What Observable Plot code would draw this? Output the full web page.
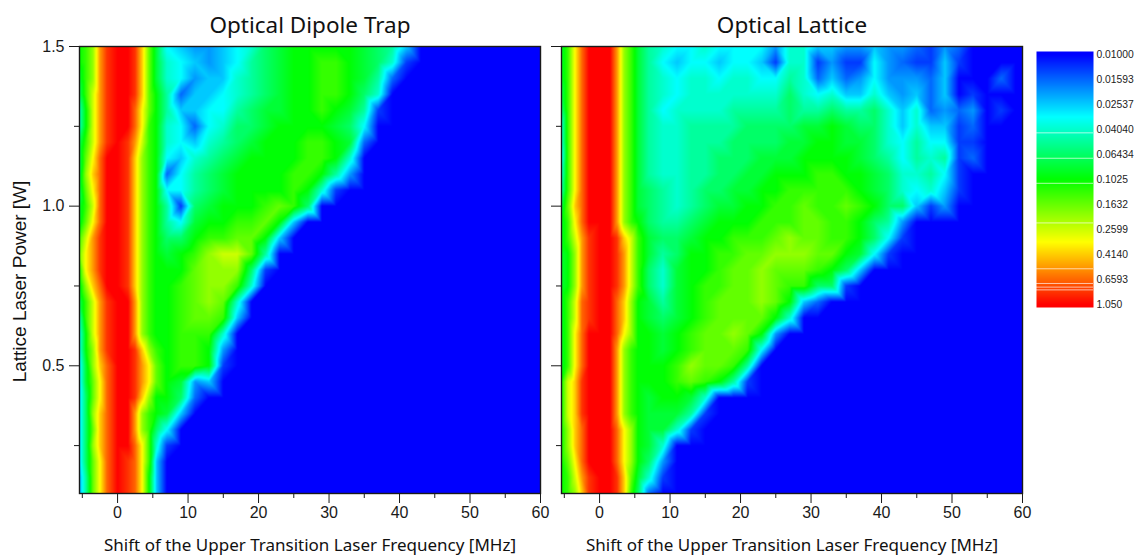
<!DOCTYPE html>
<html><head><meta charset="utf-8">
<script src="https://cdn.jsdelivr.net/npm/d3@7"></script>
<script src="https://cdn.jsdelivr.net/npm/@observablehq/plot@0.6"></script>
<style>
html,body{margin:0;padding:0;background:#fff}
#page{position:relative;width:1145px;height:556px;overflow:hidden}
#page svg{position:absolute;top:0}
</style></head><body><div id="page"></div>
<script>
// Frequency shift columns [MHz]
const freq = [-5.5,-4.5,-3.5,-2.5,-1.5,0,1.5,2.5,3.5,4.5,5.5,7,9,11,13,15,17,19,21,23,25,27,29,31,33,35,37,39,41,43,45,47,49,51,53,55,57,59,60];
// Laser power rows [W], top to bottom
const power = [1.5,1.45,1.4,1.35,1.3,1.25,1.2,1.15,1.1,1.05,1,0.95,0.9,0.85,0.8,0.75,0.7,0.65,0.6,0.55,0.5,0.45,0.4,0.35,0.3,0.25,0.2,0.15,0.1];
// Signal in thousandths; columns left out at the end of a row are at the floor value
const floorValue = 10;
const dipole = [
[100,130,200,520,830,1050,1050,830,410,160,80,32,25,20,20,25,32,40,64,80,100,100,100,100,100,80,64,50,25,10],
[100,130,200,520,830,1050,1050,830,410,160,80,40,32,25,20,25,32,50,64,80,100,100,130,130,100,80,64,40,13],
[80,130,200,520,830,1050,1050,830,410,160,80,40,32,20,25,25,40,50,64,80,100,100,130,130,100,80,50,16],
[64,130,260,520,830,1050,1050,830,410,160,100,50,16,25,25,32,40,50,64,80,100,100,130,130,100,64,40,10],
[40,100,260,520,830,1050,1050,660,330,160,100,50,25,25,32,32,50,64,80,80,100,100,130,100,80,50,13],
[40,100,260,520,830,1050,1050,660,330,130,100,40,32,16,32,40,64,64,80,100,100,100,100,80,64,32],
[64,130,260,520,830,1050,830,520,260,130,100,40,32,25,40,50,64,80,100,100,100,130,130,100,80,16],
[64,160,330,660,1050,1050,830,410,200,130,100,32,25,40,50,64,80,100,100,100,100,130,130,100,40],
[64,200,410,660,1050,1050,830,410,200,130,100,16,32,50,64,80,100,100,100,100,130,130,100,50,20],
[64,160,330,660,1050,1050,830,410,200,130,100,32,32,50,64,80,100,100,100,100,130,100,40,13],
[80,130,260,660,1050,1050,830,410,200,130,100,50,13,64,80,100,100,100,130,160,130,64],
[80,160,330,660,1050,1050,830,410,200,130,100,50,32,80,100,100,130,130,160,100,25],
[130,260,520,830,1050,1050,830,410,200,130,100,64,64,100,130,130,160,160,100,25],
[160,330,520,830,1050,1050,830,410,200,130,100,80,100,130,200,260,260,160,50],
[100,330,520,830,1050,1050,830,410,200,130,100,100,100,160,200,200,200,64,13],
[80,200,410,660,1050,1050,830,410,200,130,100,100,130,160,200,200,130,40],
[64,130,260,520,830,1050,1050,520,200,130,100,100,130,160,200,160,40],
[40,130,260,520,830,1050,1050,520,200,130,100,100,130,160,160,130,25],
[32,100,260,520,830,1050,1050,520,200,130,100,100,130,130,130,40],
[32,100,200,520,830,1050,1050,830,410,200,130,100,130,130,100,20],
[25,80,200,410,660,1050,1050,830,520,330,160,100,130,130,100,13],
[25,80,160,330,660,1050,1050,830,520,330,160,100,80,20,25],
[25,64,160,330,660,1050,1050,830,410,200,100,100,64,16],
[25,64,200,410,660,1050,1050,520,200,130,100,80,25],
[25,64,160,410,660,1050,1050,520,200,130,64,32],
[25,64,200,410,660,1050,1050,660,330,130,40,13],
[25,64,160,330,660,1050,830,660,330,130,25],
[20,50,160,330,660,1050,830,660,330,100,25],
[20,50,160,330,660,1050,830,660,330,100,25]
];
const lattice = [
[80,130,330,660,1050,1050,1050,520,200,130,80,50,40,32,32,40,32,32,32,32,20,40,40,25,25,20,20,25,20,20,16,13,20,16],
[80,130,330,660,1050,1050,1050,520,200,130,80,50,32,25,32,32,25,32,32,25,13,40,40,13,20,13,13,32,20,16,13,13,25,13],
[80,130,330,660,1050,1050,1050,520,200,130,80,50,40,32,40,40,32,40,40,32,32,50,40,16,25,16,20,32,20,20,20,16,25,10,10,10,16],
[64,130,330,660,1050,1050,1050,520,200,130,80,50,40,32,40,40,40,40,40,40,40,64,40,32,40,25,25,40,25,20,25,16,25,10,13],
[50,130,330,660,1050,1050,1050,520,200,130,80,50,32,40,40,40,40,50,50,50,50,64,50,50,64,50,50,64,40,25,40,16,20,16,20,10,13],
[32,130,330,660,1050,1050,1050,520,200,130,80,50,40,40,50,50,50,50,64,64,64,64,80,80,100,80,64,64,40,25,40,25,25,13,16],
[32,130,330,660,1050,1050,1050,520,200,130,80,50,40,40,50,50,50,64,64,64,64,80,80,100,100,80,80,64,40,32,50,32,32,13,13],
[25,130,330,660,1050,1050,1050,520,200,130,80,50,40,40,50,50,64,64,64,80,80,80,100,100,100,100,80,64,50,32,50,40,50,13,16],
[32,130,330,660,1050,1050,1050,520,200,130,80,50,40,40,50,50,64,64,80,80,100,100,100,130,130,100,100,80,64,40,40,50,32,13],
[40,130,330,660,1050,1050,1050,520,200,130,80,64,50,40,50,64,64,80,80,100,100,130,130,130,130,130,100,80,64,40,32,40,25,13],
[64,160,410,660,1050,1050,1050,520,200,130,80,64,50,40,50,64,80,80,100,100,130,130,160,130,130,160,130,100,64,64,25,13,20],
[80,130,330,660,1050,1050,1050,520,200,130,100,64,50,50,64,80,100,100,100,130,130,130,160,160,130,130,100,64,50,20],
[80,130,260,520,830,1050,1050,830,410,260,130,80,64,64,80,100,100,130,130,130,160,200,160,160,130,130,100,64,32,13],
[80,100,200,520,830,1050,1050,830,520,260,130,80,50,64,100,100,130,130,160,160,200,200,200,160,160,100,80,32,13],
[80,100,200,520,830,1050,1050,830,520,260,130,64,40,80,100,100,130,160,160,200,160,160,160,130,100,64,25],
[80,100,200,520,830,1050,1050,830,520,260,130,64,40,80,100,130,130,160,160,200,160,130,130,64,64,13],
[80,130,260,660,830,1050,1050,660,410,200,100,80,50,80,100,130,160,160,160,200,160,100,25,16],
[80,130,260,660,830,1050,1050,660,410,200,100,80,64,80,100,130,160,160,160,160,100,40],
[80,130,330,660,1050,1050,1050,660,330,200,100,100,80,100,130,160,160,200,160,100,20],
[80,130,330,660,1050,1050,1050,520,200,130,100,100,80,100,130,160,160,160,130,32],
[80,130,330,660,1050,1050,1050,520,200,130,100,100,100,130,200,160,160,130,50],
[100,260,410,830,1050,1050,1050,520,200,130,100,100,100,130,160,130,100,50,13],
[100,260,410,830,1050,1050,1050,520,200,130,100,80,100,100,80,40,10],
[100,260,410,830,1050,1050,1050,520,200,130,100,80,80,80,50,13],
[100,200,410,660,1050,1050,1050,660,330,200,100,80,80,40,13],
[100,200,410,660,1050,1050,1050,660,330,200,100,80,40,10],
[100,160,330,660,1050,1050,1050,660,330,200,100,64,20],
[100,130,260,520,830,1050,1050,830,410,160,80,40,13],
[100,130,200,410,830,1050,1050,830,410,130,64,16]
];
// Colour bar
const barLabels = ["0.01000","0.01593","0.02537","0.04040","0.06434","0.1025","0.1632","0.2599","0.4140","0.6593","1.050"];
const barValues = [0.01,0.01593,0.02537,0.0404,0.06434,0.1025,0.1632,0.2599,0.414,0.6593,1.05];
const contourLines = [0.043,0.069,0.11,0.23,0.54,0.71,0.76,0.8];
const colorStops = ["#0000ff","#00ffff","#00ff00","#ffff00","#ff0000"];

const lo = Math.log10(0.01), hi = Math.log10(1.05), q = (hi-lo)/4;
const colorScale = {type:"linear",domain:[lo,lo+q,lo+2*q,lo+3*q,hi],range:colorStops,clamp:true};
const arial = "'Liberation Sans',Arial,sans-serif", myriad = "'Noto Sans',sans-serif";
const table = rows => rows.flatMap((r,i)=>freq.map((x,j)=>({x,y:power[i],v:Math.log10((r[j] ?? floorValue)/1000)})));
const ink = "#1a1a1a";

function panel(rows,title,left,width,mL,mR,showY){
  const marks = [
    Plot.raster(table(rows),{x:"x",y:"y",fill:"v",interpolate:"barycentric"}),
    Plot.frame({stroke:ink,strokeWidth:1.4}),
    Plot.axisX({ticks:[0,10,20,30,40,50,60],tickSize:10,tickPadding:3,label:null,fontSize:16,fontFamily:arial,color:ink}),
    Plot.axisX({ticks:[-5,5,15,25,35,45,55],tickSize:5,label:null,fill:"none",color:ink}),
    Plot.axisY(showY?{ticks:[0.5,1,1.5],tickSize:10,tickPadding:5,tickFormat:".1f",label:null,fontSize:16,fontFamily:arial,color:ink}
                    :{ticks:[0.5,1,1.5],tickSize:10,label:null,fill:"none",color:ink}),
    Plot.axisY({ticks:[0.25,0.75,1.25],tickSize:5,label:null,fill:"none",color:ink}),
    Plot.text([title],{frameAnchor:"top",dy:-29,fontSize:22.5,fontFamily:myriad,fill:"#111",text:d=>d}),
    Plot.text(["Shift of the Upper Transition Laser Frequency [MHz]"],{frameAnchor:"bottom",dy:57,fontSize:17,fontFamily:myriad,fill:"#111",text:d=>d})
  ];
  if(showY) marks.push(Plot.text(["Lattice Laser Power [W]"],{frameAnchor:"left",dx:-60,dy:11.5,textAnchor:"middle",rotate:-90,fontSize:19,fontFamily:arial,fill:"#111",text:d=>d}));
  const svg = Plot.plot({width,height:556,marginLeft:mL,marginRight:mR,marginTop:46,marginBottom:63,
    style:{background:"transparent"},
    x:{domain:[-5.4,60]},y:{domain:[0.1,1.5]},color:colorScale,marks});
  svg.style.left = left+"px";
  return svg;
}
const page = document.getElementById("page");
page.append(panel(dipole,"Optical Dipole Trap",0,552,79,12,true));
page.append(panel(lattice,"Optical Lattice",530,510,31,18,false));

const bar = Plot.plot({width:109,height:556,marginLeft:0,marginRight:52,marginTop:51,marginBottom:249,
  style:{background:"transparent"},
  x:{domain:[0,1],axis:null},
  y:{domain:[hi+0.0243,lo-0.0243],axis:null},
  color:colorScale,
  marks:[
    Plot.raster({x1:0,x2:1,y1:hi+0.0243,y2:lo-0.0243,fill:(x,y)=>y,pixelSize:1}),
    Plot.ruleY(contourLines.map(Math.log10),{stroke:"#fff",strokeOpacity:0.65,strokeWidth:1}),
    Plot.text(barLabels,{x:1,y:(d,i)=>Math.log10(barValues[i]),dx:3,textAnchor:"start",fontSize:10.3,fontFamily:arial,fill:"#222",text:d=>d})
  ]});
bar.style.left = "1036px";
page.append(bar);
</script></body></html>
